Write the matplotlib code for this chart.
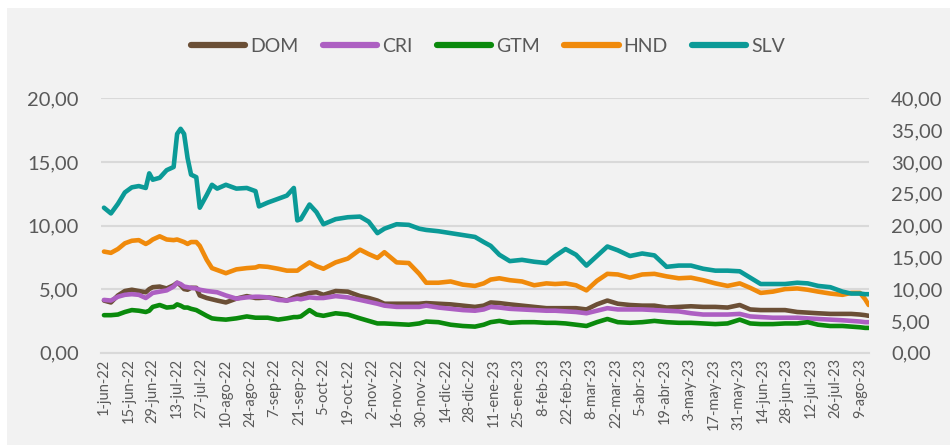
import matplotlib
matplotlib.use("Agg")
import matplotlib.pyplot as plt
from matplotlib.patches import Rectangle
import pandas as pd
import numpy as np

plt.rcParams['font.family'] = ['Lato', 'DejaVu Sans']

# ---------------- data ----------------
start_date = "2022-06-01"
day_offset = [
    0, 4, 8, 12, 16, 20, 24, 26, 28, 32,
    36, 40, 42, 44, 46, 48, 50, 53, 55, 59,
    62, 65, 70, 76, 82, 87, 89, 94, 100, 105,
    109, 111, 113, 118, 122, 126, 133, 140, 147, 152,
    157, 161, 168, 175, 181, 185, 192, 199, 206, 213,
    218, 222, 227, 233, 240, 247, 254, 259, 265, 271,
    277, 283, 289, 295, 302, 309, 316, 323, 330, 337,
    344, 351, 358, 365, 371, 377, 384, 391, 398, 404,
    410, 417, 424, 429, 434, 437, 439,
]

dom = [
    4.10, 3.95, 4.50, 4.85, 4.95, 4.85, 4.75, 5.00, 5.15, 5.20,
    5.05, 5.30, 5.50, 5.30, 5.00, 4.95, 5.10, 5.10, 4.50, 4.30,
    4.20, 4.10, 3.95, 4.25, 4.45, 4.30, 4.30, 4.35, 4.25, 4.10,
    4.35, 4.45, 4.50, 4.70, 4.75, 4.55, 4.85, 4.80, 4.45, 4.30,
    4.10, 3.85, 3.85, 3.85, 3.85, 3.90, 3.85, 3.80, 3.70, 3.60,
    3.70, 3.95, 3.90, 3.80, 3.70, 3.60, 3.50, 3.50, 3.50, 3.50,
    3.40, 3.80, 4.10, 3.85, 3.75, 3.70, 3.70, 3.55, 3.60, 3.65,
    3.60, 3.60, 3.55, 3.75, 3.40, 3.35, 3.35, 3.35, 3.20, 3.15,
    3.10, 3.05, 3.05, 3.05, 3.00, 2.95, 2.90,
]
cri = [
    4.15, 4.10, 4.40, 4.55, 4.60, 4.55, 4.30, 4.50, 4.70, 4.80,
    4.90, 5.20, 5.50, 5.40, 5.20, 5.15, 5.10, 5.05, 4.95, 4.85,
    4.80, 4.75, 4.50, 4.25, 4.35, 4.40, 4.40, 4.35, 4.15, 4.10,
    4.20, 4.25, 4.20, 4.35, 4.30, 4.30, 4.45, 4.35, 4.15, 4.00,
    3.85, 3.70, 3.60, 3.60, 3.60, 3.70, 3.55, 3.45, 3.35, 3.30,
    3.40, 3.60, 3.55, 3.45, 3.40, 3.35, 3.30, 3.30, 3.25, 3.20,
    3.10, 3.30, 3.50, 3.40, 3.40, 3.40, 3.35, 3.30, 3.25, 3.10,
    3.00, 3.00, 3.00, 3.05, 2.85, 2.80, 2.75, 2.75, 2.75, 2.70,
    2.65, 2.60, 2.55, 2.50, 2.45, 2.40, 2.40,
]
gtm = [
    2.95, 2.95, 3.00, 3.20, 3.35, 3.30, 3.20, 3.30, 3.60, 3.75,
    3.55, 3.60, 3.80, 3.70, 3.55, 3.55, 3.45, 3.35, 3.20, 2.90,
    2.70, 2.65, 2.60, 2.70, 2.85, 2.75, 2.75, 2.75, 2.60, 2.70,
    2.80, 2.80, 2.85, 3.35, 3.00, 2.90, 3.10, 3.00, 2.70, 2.50,
    2.30, 2.30, 2.25, 2.20, 2.30, 2.45, 2.40, 2.20, 2.10, 2.05,
    2.20, 2.40, 2.50, 2.35, 2.40, 2.40, 2.35, 2.35, 2.30, 2.20,
    2.10, 2.40, 2.65, 2.40, 2.35, 2.40, 2.50, 2.40, 2.35, 2.35,
    2.30, 2.25, 2.30, 2.60, 2.30, 2.25, 2.25, 2.30, 2.30, 2.40,
    2.20, 2.10, 2.10, 2.05, 2.00, 1.95, 1.95,
]
hnd = [
    7.95, 7.85, 8.15, 8.60, 8.80, 8.85, 8.55, 8.70, 8.90, 9.15,
    8.90, 8.85, 8.90, 8.80, 8.70, 8.55, 8.70, 8.70, 8.40, 7.30,
    6.65, 6.50, 6.25, 6.55, 6.65, 6.70, 6.80, 6.75, 6.60, 6.45,
    6.45, 6.45, 6.65, 7.10, 6.80, 6.60, 7.10, 7.40, 8.10, 7.75,
    7.45, 7.90, 7.10, 7.05, 6.20, 5.50, 5.50, 5.60, 5.35, 5.25,
    5.45, 5.75, 5.85, 5.70, 5.60, 5.30, 5.45, 5.40, 5.45, 5.30,
    4.90, 5.65, 6.20, 6.15, 5.90, 6.15, 6.20, 6.00, 5.85, 5.90,
    5.70, 5.45, 5.25, 5.45, 5.10, 4.70, 4.80, 5.00, 5.05, 4.95,
    4.80, 4.65, 4.55, 4.70, 4.70, 4.20, 3.75,
]
slv = [
    11.40, 10.95, 11.70, 12.60, 13.00, 13.10, 12.95, 14.10, 13.60, 13.75,
    14.35, 14.60, 17.20, 17.60, 17.20, 15.30, 14.00, 13.80, 11.40, 12.40,
    13.20, 12.90, 13.20, 12.90, 12.95, 12.70, 11.50, 11.80, 12.10, 12.35,
    12.95, 10.40, 10.50, 11.65, 11.05, 10.10, 10.50, 10.65, 10.70, 10.30,
    9.40, 9.75, 10.10, 10.05, 9.75, 9.65, 9.55, 9.40, 9.25, 9.10,
    8.70, 8.40, 7.70, 7.20, 7.30, 7.15, 7.05, 7.60, 8.15, 7.70,
    6.85, 7.60, 8.35, 8.05, 7.60, 7.80, 7.65, 6.75, 6.85, 6.85,
    6.60, 6.45, 6.45, 6.40, 5.90, 5.40, 5.40, 5.40, 5.50, 5.45,
    5.25, 5.15, 4.80, 4.65, 4.65, 4.60, 4.60,
]

series_names = ["DOM", "CRI", "GTM", "HND", "SLV"]
series_colors = ["#6B4F36", "#AD5FC2", "#0A8A0C", "#F08A0B", "#0B9A97"]

tick_labels = [
    "1-jun-22", "15-jun-22", "29-jun-22", "13-jul-22", "27-jul-22",
    "10-ago-22", "24-ago-22", "7-sep-22", "21-sep-22", "5-oct-22",
    "19-oct-22", "2-nov-22", "16-nov-22", "30-nov-22", "14-dic-22",
    "28-dic-22", "11-ene-23", "25-ene-23", "8-feb-23", "22-feb-23",
    "8-mar-23", "22-mar-23", "5-abr-23", "19-abr-23", "3-may-23",
    "17-may-23", "31-may-23", "14-jun-23", "28-jun-23", "12-jul-23",
    "26-jul-23", "9-ago-23",
]
left_ticks = [0, 5, 10, 15, 20]
right_ticks = [0, 5, 10, 15, 20, 25, 30, 35, 40]

# ---------------- figure ----------------
W, H = 951, 445
fig = plt.figure(figsize=(W / 100, H / 100), dpi=100, facecolor="white")
bg = Rectangle((7 / W, 0), (W - 8) / W, (H - 8) / H,
               transform=fig.transFigure, facecolor="#F2F2F2",
               edgecolor="none", zorder=-10)
fig.add_artist(bg)

ax_left, ax_right = 101, 869
ax_top, ax_bot = 98.3, 352.7
ax = fig.add_axes([ax_left / W, (H - ax_bot) / H,
                   (ax_right - ax_left) / W, (ax_bot - ax_top) / H])
ax.set_facecolor("none")

dates = pd.Timestamp(start_date) + pd.to_timedelta(day_offset, unit="D")
text_color = "#595959"
grid_color = "#D9D9D9"

for name, vals, col in zip(series_names, [dom, cri, gtm, hnd, slv], series_colors):
    ax.plot(dates, vals, color=col, lw=3.3, label=name,
            solid_capstyle="round", solid_joinstyle="round", zorder=3)

ax.set_ylim(0, 20)
ax.set_yticks(left_ticks)
ax.set_yticklabels([f"{v:.2f}".replace(".", ",") for v in left_ticks])
x0 = pd.Timestamp(start_date) - pd.Timedelta(days=1.7)
x1 = pd.Timestamp(start_date) + pd.Timedelta(days=439.2)
ax.set_xlim(x0, x1)
tick_dates = pd.date_range(start_date, periods=len(tick_labels), freq="14D")
ax.set_xticks(tick_dates)
ax.set_xticklabels(tick_labels, rotation=90, fontsize=10.5, color=text_color)

ax.grid(axis="y", color=grid_color, lw=1.5, zorder=0)
ax.set_axisbelow(True)
for s in ["top", "left", "right"]:
    ax.spines[s].set_visible(False)
ax.spines["bottom"].set_color(grid_color)
ax.spines["bottom"].set_linewidth(1.5)
ax.tick_params(axis="x", length=0, pad=4)
ax.tick_params(axis="y", length=0, pad=16, labelsize=14.5, labelcolor=text_color)

ax2 = ax.twinx()
ax2.set_ylim(0, 40)
ax2.set_yticks(right_ticks)
ax2.set_yticklabels([f"{v:.2f}".replace(".", ",") for v in right_ticks])
ax2.tick_params(axis="y", length=0, pad=16, labelsize=14.5, labelcolor=text_color)
for s in ["top", "left", "right", "bottom"]:
    ax2.spines[s].set_visible(False)
ax2.set_facecolor("none")

handles, labels = ax.get_legend_handles_labels()
leg = fig.legend(handles, labels, ncol=5, loc="center",
                 bbox_to_anchor=(488 / W, 1 - 46 / H), frameon=False,
                 fontsize=14, handlelength=2.8, handletextpad=0.25,
                 columnspacing=1.25, labelcolor=text_color)
for line in leg.get_lines():
    line.set_linewidth(4.5)
    line.set_solid_capstyle("round")

fig.savefig("out.png", dpi=100, facecolor=fig.get_facecolor())
